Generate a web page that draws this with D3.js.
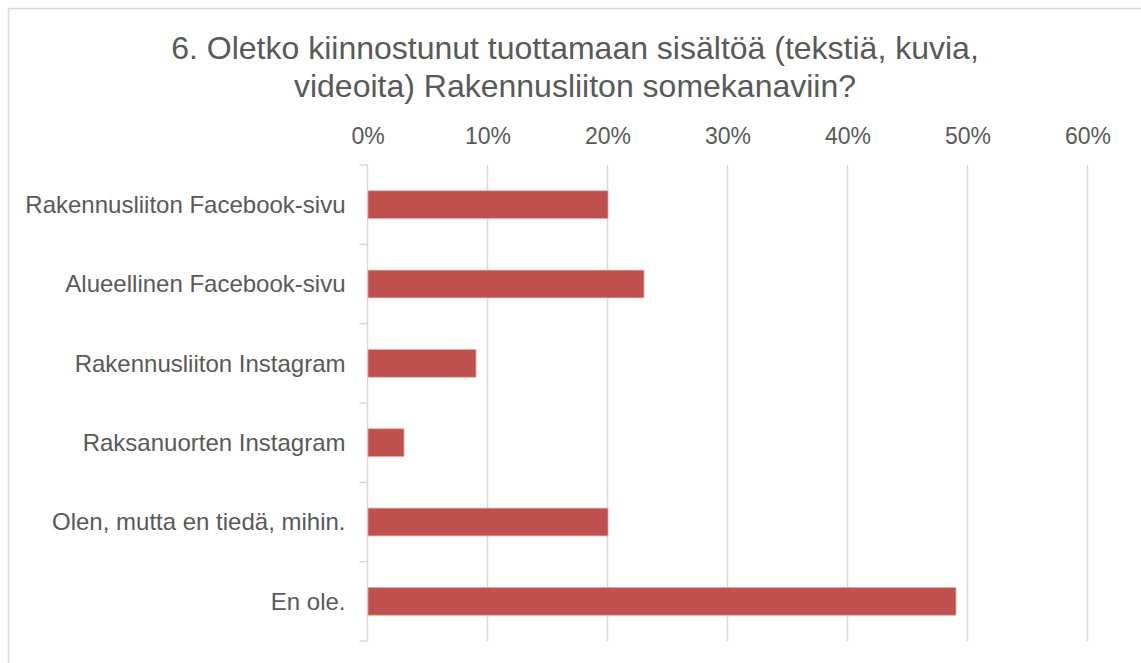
<!DOCTYPE html>
<html>
<head>
<meta charset="utf-8">
<script src="https://cdn.jsdelivr.net/npm/d3@7"></script>
<style>
  html, body { margin: 0; padding: 0; background: #fff; }
  svg { display: block; font-family: "Liberation Sans", Arial, sans-serif; }
</style>
</head>
<body>
<svg id="chart" width="1141" height="663"></svg>
<script>
const titleLines = ["6. Oletko kiinnostunut tuottamaan sisältöä (tekstiä, kuvia,", "videoita) Rakennusliiton somekanaviin?"];
const categories = ["Rakennusliiton Facebook-sivu", "Alueellinen Facebook-sivu", "Rakennusliiton Instagram", "Raksanuorten Instagram", "Olen, mutta en tiedä, mihin.", "En ole."];
const values = [0.20, 0.23, 0.09, 0.03, 0.20, 0.49];
const tickValues = [0, 0.1, 0.2, 0.3, 0.4, 0.5, 0.6];

const svg = d3.select("#chart");
const W = 1141, H = 663;
const margin = { left: 367.5, right: W - 1087.5, top: 165, bottom: H - 641 };
const textColor = "#595959";
const gridColor = "#d9d9d9";

// outer border
svg.append("rect")
  .attr("x", 8.5).attr("y", 8.5)
  .attr("width", 1200).attr("height", 700)
  .attr("fill", "#fff").attr("stroke", gridColor).attr("stroke-width", 1.5);

// title
const title = svg.append("text")
  .attr("x", 575).attr("y", 59)
  .attr("text-anchor", "middle")
  .attr("fill", textColor)
  .style("font-size", "32px");
titleLines.forEach((t, i) => {
  title.append("tspan").attr("x", 575).attr("y", 59 + i * 38).text(t);
});

const x = d3.scaleLinear().domain([0, 0.6]).range([margin.left, W - margin.right]);
const y = d3.scaleBand().domain(categories).range([margin.top, H - margin.bottom]).paddingInner(0.65).paddingOuter(0.325);
const yb = d3.scaleBand().domain(categories).range([margin.top, H - margin.bottom]).padding(0);

// gridlines
svg.append("g").selectAll("line")
  .data(tickValues.slice(1))
  .join("line")
  .attr("x1", d => x(d)).attr("x2", d => x(d))
  .attr("y1", margin.top).attr("y2", H - margin.bottom)
  .attr("stroke", gridColor).attr("stroke-width", 1.5);

// top axis labels
const xAxis = d3.axisTop(x).tickValues(tickValues).tickFormat(d3.format(".0%")).tickSize(0).tickPadding(0);
const gx = svg.append("g").attr("transform", `translate(0, 144)`).call(xAxis);
gx.select(".domain").remove();
gx.selectAll("text").attr("fill", textColor).style("font-size", "23px").attr("dy", 0);

// left axis
const gy = svg.append("g").attr("transform", `translate(${margin.left},0)`);
gy.append("line")
  .attr("x1", 0).attr("x2", 0)
  .attr("y1", margin.top).attr("y2", H - margin.bottom)
  .attr("stroke", gridColor).attr("stroke-width", 1.5);
const boundaries = categories.map(c => yb(c)).concat([yb(categories[categories.length - 1]) + yb.bandwidth()]);
gy.selectAll("line.tick")
  .data(boundaries)
  .join("line").attr("class", "tick")
  .attr("x1", -8).attr("x2", 0)
  .attr("y1", d => d).attr("y2", d => d)
  .attr("stroke", gridColor).attr("stroke-width", 1.5);
gy.selectAll("text")
  .data(categories)
  .join("text")
  .attr("x", -22)
  .attr("y", d => y(d) + y.bandwidth() / 2)
  .attr("dy", "0.35em")
  .attr("text-anchor", "end")
  .attr("fill", textColor)
  .style("font-size", "24px")
  .text(d => d);

// bars
svg.append("g").selectAll("rect")
  .data(categories.map((c, i) => ({ c, v: values[i] })))
  .join("rect")
  .attr("x", x(0) + 0.5)
  .attr("y", d => y(d.c))
  .attr("width", d => x(d.v) - x(0))
  .attr("height", y.bandwidth())
  .attr("fill", "#C0504D")
  .attr("stroke", "#e3a9a7")
  .attr("stroke-width", 0.8);
</script>
</body>
</html>
